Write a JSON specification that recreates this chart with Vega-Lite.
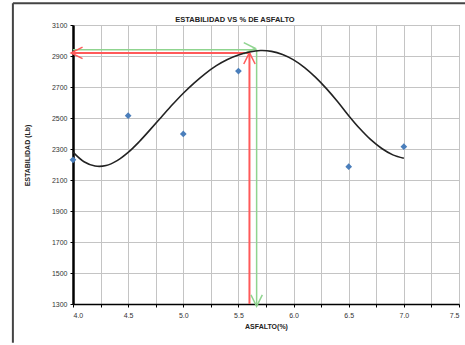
{
  "$schema": "https://vega.github.io/schema/vega-lite/v6.json",
  "width": 386,
  "height": 279,
  "autosize": "none",
  "padding": {"left": 73, "top": 25, "right": 6, "bottom": 41},
  "background": "white",
  "title": {"text": "ESTABILIDAD  VS % DE ASFALTO", "frame": "group", "fontSize": 7.5, "fontWeight": "bold", "font": "Liberation Sans", "color": "#222", "offset": 3, "dx": -31, "dy": 24},
  "config": {
    "view": {"stroke": "#555", "strokeWidth": 1},
    "axis": {"gridColor": "#c4c4c4", "gridWidth": 1, "gridOpacity": 1, "labelFont": "Liberation Sans", "labelFontSize": 7, "labelColor": "#333", "titleFont": "Liberation Sans", "titleFontSize": 7, "titleFontWeight": "bold", "titleColor": "#222", "domainColor": "#000", "tickColor": "#000", "tickSize": 3, "labelOverlap": false}
  },
  "datasets": {
    "curve": [
      {"x": 4.0, "y": 2280}, {"x": 4.1, "y": 2218}, {"x": 4.2, "y": 2190}, {"x": 4.3, "y": 2193},
      {"x": 4.4, "y": 2225}, {"x": 4.5, "y": 2278}, {"x": 4.6, "y": 2347}, {"x": 4.7, "y": 2425},
      {"x": 4.8, "y": 2505}, {"x": 4.9, "y": 2585}, {"x": 5.0, "y": 2660}, {"x": 5.1, "y": 2727},
      {"x": 5.2, "y": 2787}, {"x": 5.3, "y": 2838}, {"x": 5.4, "y": 2878}, {"x": 5.5, "y": 2907},
      {"x": 5.6, "y": 2926}, {"x": 5.7, "y": 2935}, {"x": 5.8, "y": 2930}, {"x": 5.9, "y": 2910},
      {"x": 6.0, "y": 2875}, {"x": 6.1, "y": 2825}, {"x": 6.2, "y": 2762}, {"x": 6.3, "y": 2688},
      {"x": 6.4, "y": 2605}, {"x": 6.5, "y": 2515}, {"x": 6.6, "y": 2432}, {"x": 6.7, "y": 2360},
      {"x": 6.8, "y": 2303}, {"x": 6.9, "y": 2262}, {"x": 7.0, "y": 2240}
    ],
    "points": [
      {"x": 4.0, "y": 2230}, {"x": 4.5, "y": 2515}, {"x": 5.0, "y": 2397},
      {"x": 5.5, "y": 2803}, {"x": 6.5, "y": 2186}, {"x": 7.0, "y": 2315}
    ],
    "segments": [
      {"series": "green", "x": 4.0, "x2": 5.665, "y": 2940, "y2": 2940},
      {"series": "green", "x": 5.665, "x2": 5.665, "y": 2940, "y2": 1300},
      {"series": "red", "x": 4.0, "x2": 5.6, "y": 2920, "y2": 2920},
      {"series": "red", "x": 5.6, "x2": 5.6, "y": 1300, "y2": 2920}
    ],
    "heads": [
      {"series": "red", "dir": "left", "x": 4.035, "y": 2920},
      {"series": "red", "dir": "up", "x": 5.6, "y": 2885},
      {"series": "green", "dir": "right", "x": 5.6, "y": 2950},
      {"series": "green", "dir": "down", "x": 5.665, "y": 1322}
    ],
    "frame": [
      {"x": 3.455, "x2": 3.455, "y": 1050, "y2": 3240},
      {"x": 3.455, "x2": 7.7, "y": 3240, "y2": 3240}
    ]
  },
  "encoding": {
    "x": {"field": "x", "type": "quantitative", "scale": {"domain": [4, 7.5], "nice": false, "zero": false},
      "axis": {"values": [4, 4.25, 4.5, 4.75, 5, 5.25, 5.5, 5.75, 6, 6.25, 6.5, 6.75, 7, 7.25, 7.5], "labelExpr": "(datum.value * 2) % 1 == 0 ? format(datum.value, '.1f') : ''", "title": "ASFALTO(%)", "titlePadding": 4, "domainWidth": 1.5, "labelPadding": 4}},
    "y": {"field": "y", "type": "quantitative", "scale": {"domain": [1300, 3100], "nice": false, "zero": false},
      "axis": {"values": [1300, 1500, 1700, 1900, 2100, 2300, 2500, 2700, 2900, 3100], "format": "d", "title": "ESTABILIDAD (Lb)", "titleX": -43, "titleY": 130, "domainWidth": 2.5, "labelPadding": 3}}
  },
  "layer": [
    {
      "data": {"name": "frame"},
      "mark": {"type": "rule", "color": "#444", "strokeWidth": 2, "clip": false},
      "encoding": {
        "x2": {"field": "x2"},
        "y2": {"field": "y2"}
      }
    },
    {
      "data": {"name": "segments"},
      "mark": {"type": "rule"},
      "encoding": {
        "x2": {"field": "x2"},
        "y2": {"field": "y2"},
        "color": {"field": "series", "type": "nominal", "scale": {"domain": ["red", "green"], "range": ["#ff5a5a", "#8fd48f"]}, "legend": null},
        "strokeWidth": {"field": "series", "type": "nominal", "scale": {"domain": ["red", "green"], "range": [2, 1.5]}, "legend": null}
      }
    },
    {
      "data": {"name": "heads"},
      "mark": {"type": "point", "filled": false, "strokeWidth": 1.5, "opacity": 1, "size": 130},
      "encoding": {
        "shape": {"field": "dir", "type": "nominal", "scale": {"domain": ["left", "up", "right", "down"], "range": ["M1,-1L-1,0L1,1", "M-1,1L0,-1L1,1", "M-1,-1L1,0L-1,1", "M-1,-1L0,1L1,-1"]}, "legend": null},
        "color": {"field": "series", "type": "nominal", "scale": {"domain": ["red", "green"], "range": ["#ff5a5a", "#5cc05c"]}, "legend": null}
      }
    },
    {
      "data": {"name": "curve"},
      "mark": {"type": "line", "color": "#222", "strokeWidth": 1.6, "interpolate": "catmull-rom"},
      "encoding": {}
    },
    {
      "data": {"name": "points"},
      "mark": {"type": "point", "shape": "diamond", "filled": true, "color": "#4a7ebb", "size": 45, "opacity": 1, "clip": false},
      "encoding": {}
    }
  ]
}
